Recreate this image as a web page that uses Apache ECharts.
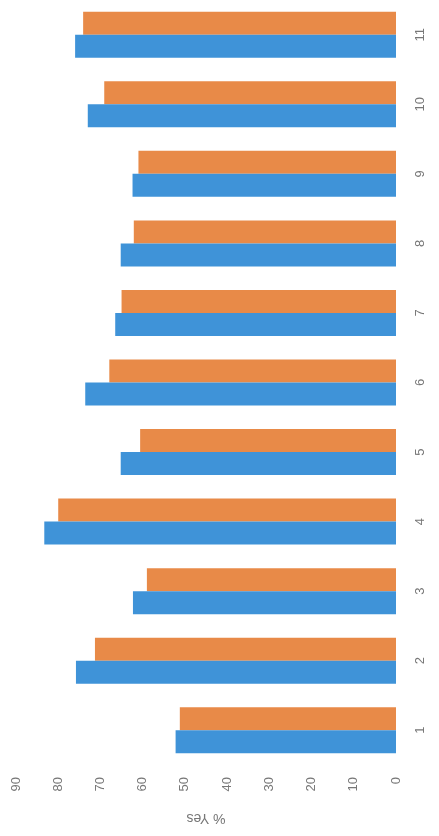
<!DOCTYPE html>
<html>
<head>
<meta charset="utf-8">
<script src="https://cdn.jsdelivr.net/npm/echarts@6/dist/echarts.min.js"></script>
<style>html,body{margin:0;padding:0;background:#fff;}#c{width:439px;height:836px;}</style>
</head>
<body>
<div id="c"></div>
<script>
var categories = ['1','2','3','4','5','6','7','8','9','10','11'];
var seriesBlue = [52.2, 75.8, 62.3, 83.3, 65.2, 73.6, 66.5, 65.2, 62.4, 73.0, 76.0];
var seriesOrange = [51.2, 71.3, 59.0, 80.0, 60.6, 67.9, 65.0, 62.1, 61.0, 69.1, 74.1];
var valueTicks = {min: 0, max: 90, interval: 10};
var axisName = '% Yes';

var chart = echarts.init(document.getElementById('c'));
chart.setOption({
  animation: false,
  backgroundColor: '#fff',
  grid: {left: 16, right: 43, top: -10, bottom: 71, containLabel: false},
  xAxis: {
    type: 'value',
    inverse: true,
    min: valueTicks.min, max: valueTicks.max, interval: valueTicks.interval,
    splitLine: {show: false},
    axisLine: {show: false},
    axisTick: {show: false},
    axisLabel: {rotate: 90, margin: 12, color: '#777', fontSize: 13, fontFamily: 'Liberation Sans'},
    name: axisName,
    nameLocation: 'middle',
    nameGap: 46,
    nameRotate: 180,
    nameTextStyle: {color: '#777', fontSize: 14, fontFamily: 'Liberation Sans'}
  },
  yAxis: {
    type: 'category',
    position: 'right',
    data: categories,
    axisLine: {show: false},
    axisTick: {show: false},
    splitLine: {show: false},
    axisLabel: {rotate: 90, margin: 18, color: '#777', fontSize: 13, fontFamily: 'Liberation Sans'}
  },
  series: [
    {type: 'bar', data: seriesOrange, barWidth: 23, barGap: '0%', itemStyle: {color: '#e88a48'}},
    {type: 'bar', data: seriesBlue, barWidth: 23, barGap: '0%', itemStyle: {color: '#3f93d8'}}
  ]
});
</script>
</body>
</html>
